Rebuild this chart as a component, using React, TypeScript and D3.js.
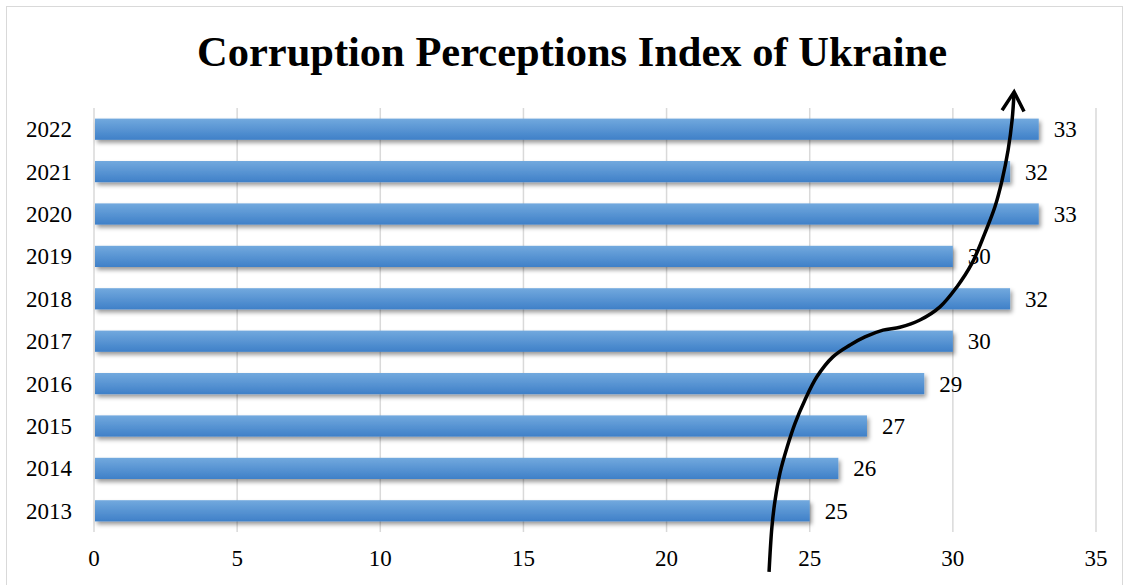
import * as d3 from 'd3';
import React, { useRef, useEffect } from 'react';

const years = ['2013', '2014', '2015', '2016', '2017', '2018', '2019', '2020', '2021', '2022'];
const scores = [25, 26, 27, 29, 30, 32, 30, 33, 32, 33];
const xTicks = [0, 5, 10, 15, 20, 25, 30, 35];

// hand-drawn trend arrow, in data units: [score, year]
const arrowValues = [23.58, 23.68, 23.79, 23.96, 24.21, 24.49, 24.83, 25.25, 25.81, 26.41, 26.93, 27.56, 28.15, 28.85, 29.55, 30.14, 30.67, 31.12, 31.47, 31.72, 31.93, 32.07, 32.14];
const arrowYears = [2011.56, 2012.62, 2013.25, 2013.89, 2014.5, 2015.07, 2015.61, 2016.16, 2016.63, 2016.91, 2017.1, 2017.26, 2017.33, 2017.5, 2017.81, 2018.28, 2018.84, 2019.55, 2020.17, 2020.8, 2021.51, 2022.22, 2022.88];

const TITLE = 'Corruption Perceptions Index of Ukraine';
const W = 1129;
const H = 585;

const BarChart = () => {
  const ref = useRef<SVGSVGElement>(null);

  useEffect(() => {
    const margin = { top: 108, right: 33, bottom: 53, left: 94 };
    const width = W - margin.left - margin.right;
    const height = H - margin.top - margin.bottom;
    const font = '"Liberation Serif", "Times New Roman", serif';

    const root = d3.select(ref.current)
      .attr('width', W)
      .attr('height', H);

    const defs = root.append('defs');
    const grad = defs.append('linearGradient')
      .attr('id', 'barGrad')
      .attr('x1', 0).attr('y1', 0).attr('x2', 0).attr('y2', 1);
    grad.append('stop').attr('offset', '0%').attr('stop-color', '#72a9de');
    grad.append('stop').attr('offset', '100%').attr('stop-color', '#3f80c8');

    const shadow = defs.append('filter')
      .attr('id', 'shadow')
      .attr('x', '-5%').attr('y', '-50%').attr('width', '110%').attr('height', '220%');
    shadow.append('feDropShadow')
      .attr('dx', 2).attr('dy', 3).attr('stdDeviation', 2)
      .attr('flood-color', '#000').attr('flood-opacity', 0.4);

    const marker = defs.append('marker')
      .attr('id', 'arrowHead')
      .attr('viewBox', '-22 -14 26 28')
      .attr('markerWidth', 26).attr('markerHeight', 28)
      .attr('markerUnits', 'userSpaceOnUse')
      .attr('refX', 0).attr('refY', 0)
      .attr('orient', 'auto');
    marker.append('path')
      .attr('d', 'M-19,-11 L0,0 L-19,11')
      .attr('fill', 'none')
      .attr('stroke', '#000')
      .attr('stroke-width', 3.5)
      .attr('stroke-linejoin', 'miter');

    // chart frame
    root.append('rect')
      .attr('x', 6.5).attr('y', 6.5)
      .attr('width', W - 13).attr('height', H)
      .attr('fill', '#fff')
      .attr('stroke', '#d9d9d9');

    root.append('text')
      .attr('x', 572)
      .attr('y', 66)
      .attr('text-anchor', 'middle')
      .style('font-family', font)
      .style('font-weight', 'bold')
      .style('font-size', '42.5px')
      .text(TITLE);

    const svg = root.append('g')
      .attr('transform', `translate(${margin.left},${margin.top})`);

    const x = d3.scaleLinear().domain([0, 35]).range([0, width]);
    const y = d3.scaleBand()
      .domain([...years].reverse())
      .range([0, height])
      .paddingInner(0.5)
      .paddingOuter(0.25);

    const yearPos = d3.scaleLinear()
      .domain([2013, 2022])
      .range([y('2013')! + y.bandwidth() / 2, y('2022')! + y.bandwidth() / 2]);

    svg.selectAll('line.grid')
      .data(xTicks)
      .enter().append('line')
      .attr('class', 'grid')
      .attr('x1', d => x(d)).attr('x2', d => x(d))
      .attr('y1', 0).attr('y2', height)
      .attr('stroke', '#d9d9d9')
      .attr('stroke-width', 1.5);

    const data = years.map((yr, i) => ({ yr, v: scores[i] }));

    svg.selectAll('rect.bar')
      .data(data)
      .enter().append('rect')
      .attr('class', 'bar')
      .attr('x', x(0) + 1)
      .attr('y', d => y(d.yr)!)
      .attr('width', d => x(d.v) - x(0) - 1)
      .attr('height', y.bandwidth())
      .attr('fill', 'url(#barGrad)')
      .attr('filter', 'url(#shadow)');

    svg.selectAll('text.val')
      .data(data)
      .enter().append('text')
      .attr('class', 'val')
      .attr('x', d => x(d.v) + 15)
      .attr('y', d => y(d.yr)! + y.bandwidth() / 2)
      .attr('dy', '0.35em')
      .style('font-family', font)
      .style('font-size', '23px')
      .text(d => d.v);

    svg.selectAll('text.year')
      .data(years)
      .enter().append('text')
      .attr('class', 'year')
      .attr('x', -22)
      .attr('y', d => y(d)! + y.bandwidth() / 2)
      .attr('dy', '0.35em')
      .attr('text-anchor', 'end')
      .style('font-family', font)
      .style('font-size', '23px')
      .text(d => d);

    svg.selectAll('text.tick')
      .data(xTicks)
      .enter().append('text')
      .attr('class', 'tick')
      .attr('x', d => x(d))
      .attr('y', height + 26)
      .attr('dy', '0.35em')
      .attr('text-anchor', 'middle')
      .style('font-family', font)
      .style('font-size', '23px')
      .text(d => d);

    const line = d3.line<number>()
      .x((_, i) => x(arrowValues[i]))
      .y((_, i) => yearPos(arrowYears[i]))
      .curve(d3.curveCatmullRom.alpha(0.5));

    svg.append('path')
      .attr('d', line(arrowValues))
      .attr('fill', 'none')
      .attr('stroke', '#000')
      .attr('stroke-width', 3.5)
      .attr('marker-end', 'url(#arrowHead)');

    return () => {
      root.selectAll('*').remove();
    };
  }, []);

  return <svg ref={ref} style={{ display: 'block' }}></svg>;
};

export default function App() {
  return (
    <div style={{ position: 'fixed', left: 0, top: 0, width: W, height: H, overflow: 'hidden', background: '#fff' }}>
      <BarChart />
    </div>
  );
}
